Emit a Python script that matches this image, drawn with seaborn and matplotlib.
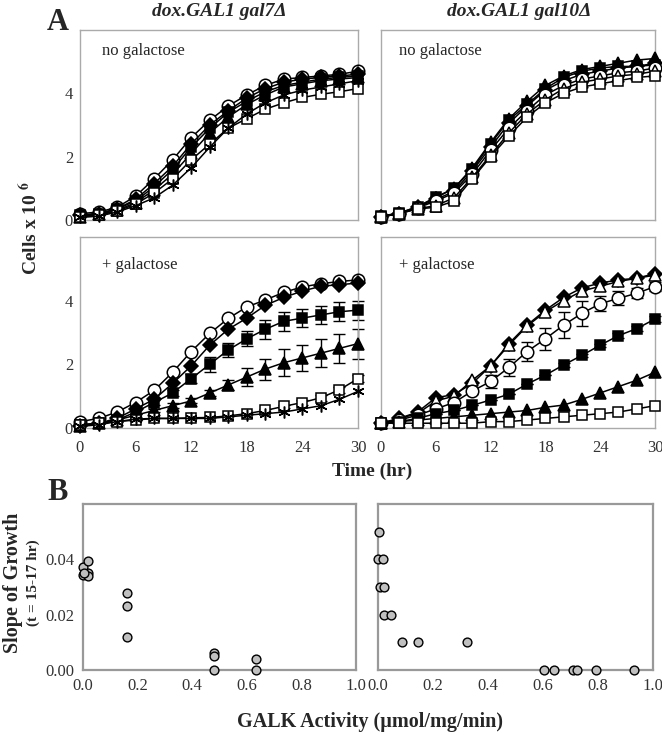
import numpy as np
import pandas as pd
import seaborn as sns
import matplotlib.pyplot as plt

hours = list(range(0, 31, 2))

# panel A, dox.GAL1 gal7 delta, no galactose
g7_none = {
    "circle": [0.2, 0.25, 0.4, 0.75, 1.3, 1.9, 2.6, 3.15, 3.6, 3.95, 4.25, 4.45, 4.5, 4.55, 4.6, 4.7],
    "diamond": [0.15, 0.2, 0.35, 0.65, 1.15, 1.7, 2.4, 3.0, 3.45, 3.85, 4.15, 4.35, 4.45, 4.5, 4.55, 4.6],
    "square": [0.15, 0.2, 0.35, 0.6, 1.05, 1.6, 2.3, 2.9, 3.4, 3.75, 4.05, 4.25, 4.35, 4.45, 4.5, 4.55],
    "triangle": [0.1, 0.18, 0.3, 0.55, 0.95, 1.45, 2.1, 2.75, 3.25, 3.65, 3.95, 4.2, 4.3, 4.4, 4.45, 4.5],
    "open_square": [0.1, 0.15, 0.28, 0.5, 0.85, 1.3, 1.9, 2.4, 2.9, 3.2, 3.5, 3.7, 3.87, 3.97, 4.05, 4.15],
    "star": [0.08, 0.12, 0.25, 0.45, 0.7, 1.1, 1.65, 2.3, 2.9, 3.35, 3.7, 3.95, 4.1, 4.2, 4.3, 4.4],
}
# panel A, gal7 delta, + galactose
g7_gal = {
    "circle": [0.2, 0.3, 0.5, 0.8, 1.18, 1.75, 2.4, 2.97, 3.44, 3.8, 4.02, 4.26, 4.43, 4.53, 4.6, 4.65],
    "diamond": [0.05, 0.15, 0.3, 0.6, 0.9, 1.4, 1.95, 2.6, 3.1, 3.45, 3.85, 4.1, 4.3, 4.45, 4.5, 4.55],
    "square": [0.1, 0.15, 0.25, 0.5, 0.8, 1.1, 1.55, 2.0, 2.45, 2.8, 3.1, 3.35, 3.45, 3.55, 3.65, 3.7],
    "triangle": [0.05, 0.15, 0.25, 0.4, 0.55, 0.7, 0.85, 1.1, 1.35, 1.6, 1.85, 2.05, 2.2, 2.35, 2.5, 2.65],
    "open_square": [0.1, 0.15, 0.2, 0.25, 0.3, 0.3, 0.32, 0.33, 0.38, 0.45, 0.55, 0.68, 0.8, 0.95, 1.2, 1.55],
    "star": [0.05, 0.1, 0.2, 0.28, 0.3, 0.3, 0.3, 0.3, 0.35, 0.4, 0.45, 0.5, 0.6, 0.7, 0.9, 1.15],
}
g7_gal_err = {
    "square": [0, 0, 0, 0.05, 0.08, 0.1, 0.15, 0.23, 0.23, 0.23, 0.3, 0.3, 0.28, 0.28, 0.3, 0.3],
    "triangle": [0, 0, 0, 0.05, 0.05, 0.08, 0.08, 0.1, 0.15, 0.28, 0.33, 0.43, 0.42, 0.44, 0.45, 0.47],
    "open_square": [0, 0, 0, 0, 0, 0, 0, 0, 0, 0, 0.05, 0.05, 0.08, 0.1, 0.1, 0.1],
}

# panel A, dox.GAL1 gal10 delta, no galactose
g10_none = {
    "triangle": [0.12, 0.21, 0.42, 0.7, 1.0, 1.65, 2.45, 3.2, 3.75, 4.25, 4.55, 4.75, 4.85, 4.95, 5.05, 5.1],
    "square": [0.12, 0.22, 0.42, 0.72, 1.0, 1.6, 2.4, 3.15, 3.65, 4.15, 4.5, 4.7, 4.8, 4.85, 4.85, 4.9],
    "diamond": [0.1, 0.2, 0.4, 0.65, 0.9, 1.55, 2.3, 3.05, 3.6, 4.1, 4.4, 4.6, 4.7, 4.8, 4.85, 4.95],
    "circle": [0.1, 0.2, 0.38, 0.6, 0.85, 1.45, 2.2, 2.9, 3.45, 3.95, 4.25, 4.45, 4.55, 4.65, 4.7, 4.8],
    "open_triangle": [0.1, 0.2, 0.36, 0.45, 0.7, 1.35, 2.05, 2.75, 3.35, 3.8, 4.15, 4.35, 4.45, 4.55, 4.6, 4.7],
    "open_square": [0.1, 0.2, 0.35, 0.4, 0.6, 1.3, 2.0, 2.65, 3.25, 3.7, 4.0, 4.2, 4.3, 4.4, 4.5, 4.55],
}
# panel A, gal10 delta, + galactose
g10_gal = {
    "diamond": [0.15, 0.3, 0.5, 0.95, 1.05, 1.4, 1.95, 2.65, 3.23, 3.7, 4.1, 4.4, 4.55, 4.65, 4.7, 4.85],
    "open_triangle": [0.15, 0.3, 0.45, 0.85, 1.0, 1.5, 1.95, 2.6, 3.2, 3.65, 4.0, 4.3, 4.45, 4.6, 4.7, 4.8],
    "circle": [0.15, 0.25, 0.4, 0.6, 0.8, 1.16, 1.46, 1.9, 2.4, 2.8, 3.23, 3.6, 3.9, 4.07, 4.23, 4.44],
    "square": [0.15, 0.2, 0.3, 0.45, 0.55, 0.71, 0.88, 1.06, 1.38, 1.66, 1.98, 2.28, 2.6, 2.9, 3.12, 3.42],
    "triangle": [0.15, 0.2, 0.25, 0.3, 0.35, 0.4, 0.45, 0.5, 0.55, 0.65, 0.72, 0.9, 1.1, 1.3, 1.5, 1.75],
    "open_square": [0.15, 0.15, 0.15, 0.15, 0.15, 0.15, 0.2, 0.2, 0.25, 0.3, 0.35, 0.4, 0.45, 0.5, 0.6, 0.7],
}
g10_gal_err = {
    "circle": [0, 0, 0, 0, 0, 0.1, 0.2, 0.26, 0.29, 0.35, 0.42, 0.4, 0.24, 0.22, 0.15, 0.15],
    "square": [0, 0, 0, 0, 0, 0, 0, 0, 0, 0, 0.05, 0.05, 0.05, 0.08, 0.08, 0.1],
}

# panel B, slope of growth vs GALK activity
galk_g7 = [0.0, 0.02, 0.0, 0.02, 0.02, 0.005, 0.16, 0.16, 0.16, 0.48, 0.48, 0.48, 0.635, 0.635]
slope_g7 = [0.0373, 0.0394, 0.0345, 0.035, 0.034, 0.035, 0.028, 0.023, 0.012, 0.0061, 0.0051, 0.0, 0.0041, 0.0]
galk_g10 = [0.002, 0.0, 0.018, 0.006, 0.02, 0.022, 0.046, 0.087, 0.145, 0.324,
            0.605, 0.64, 0.709, 0.723, 0.794, 0.93]
slope_g10 = [0.05, 0.04, 0.04, 0.03, 0.03, 0.02, 0.02, 0.01, 0.01, 0.01,
             0.0, 0.0, 0.0, 0.0, 0.0, 0.0]

styles = {
    "circle": ("o", "white", 9),
    "diamond": ("D", "black", 7.5),
    "square": ("s", "black", 7.5),
    "triangle": ("^", "black", 8.5),
    "open_square": ("s", "white", 7.5),
    "open_triangle": ("^", "white", 8.5),
    "star": ((6, 2, 0), "black", 8.5),
}

sns.set_style("white")
plt.rcParams["font.family"] = ["Liberation Serif", "DejaVu Serif"]
plt.rcParams["mathtext.fontset"] = "stix"

fig = plt.figure(figsize=(6.62, 7.35), dpi=100)
ax_tl = fig.add_axes([0.1208, 0.7007, 0.42, 0.2585])
ax_tr = fig.add_axes([0.5755, 0.7007, 0.4139, 0.2585])
ax_bl = fig.add_axes([0.1208, 0.4177, 0.42, 0.26])
ax_br = fig.add_axes([0.5755, 0.4177, 0.4139, 0.26])
ax_b1 = fig.add_axes([0.1254, 0.0884, 0.4124, 0.2259])
ax_b2 = fig.add_axes([0.571, 0.0884, 0.4154, 0.2259])


def draw_curves(ax, series, errs=None):
    for name, vals in series.items():
        marker, face, size = styles[name]
        if errs and name in errs:
            ax.errorbar(hours, vals, yerr=errs[name], fmt="none", ecolor="black",
                        elinewidth=1, capsize=4, capthick=1, zorder=2, clip_on=False)
        sns.lineplot(x=hours, y=vals, ax=ax, color="black", linewidth=1.1,
                     marker=marker, markersize=size, markerfacecolor=face,
                     markeredgecolor="black", markeredgewidth=1.1, clip_on=False, zorder=3)


for ax, data, errs in [(ax_tl, g7_none, None), (ax_tr, g10_none, None),
                       (ax_bl, g7_gal, g7_gal_err), (ax_br, g10_gal, g10_gal_err)]:
    draw_curves(ax, data, errs)
    ax.set_xlim(0, 30)
    ax.set_ylim(0, 6)
    ax.set_xticks([0, 6, 12, 18, 24, 30])
    ax.set_yticks([0, 2, 4])
    ax.tick_params(labelsize=12, length=0, pad=5, colors="#333333")
    for s in ax.spines.values():
        s.set_color("#aaaaaa")
        s.set_linewidth(1)

for ax in (ax_tl, ax_tr):
    ax.set_xticklabels([])
for ax in (ax_tr, ax_br):
    ax.set_yticklabels([])
for ax in (ax_bl, ax_br):
    ax.tick_params(axis="x", length=4, direction="out", color="#aaaaaa")

ax_tl.text(0.08, 0.87, "no galactose", transform=ax_tl.transAxes, fontsize=12)
ax_tr.text(0.065, 0.87, "no galactose", transform=ax_tr.transAxes, fontsize=12)
ax_bl.text(0.08, 0.83, "+ galactose", transform=ax_bl.transAxes, fontsize=12)
ax_br.text(0.065, 0.83, "+ galactose", transform=ax_br.transAxes, fontsize=12)

for ax, gx, gy in [(ax_b1, galk_g7, slope_g7), (ax_b2, galk_g10, slope_g10)]:
    sns.scatterplot(x=gx, y=gy, ax=ax, color="#c0c0c0", edgecolor="black",
                    linewidth=1, s=40, clip_on=False, zorder=3)
    ax.set_xlim(0, 1.0)
    ax.set_ylim(0, 0.06)
    ax.set_xticks([0, 0.2, 0.4, 0.6, 0.8, 1.0])
    ax.set_xticklabels(["0.0", "0.2", "0.4", "0.6", "0.8", "1.0"])
    ax.set_yticks([0, 0.02, 0.04])
    ax.set_yticklabels(["0.00", "0.02", "0.04"])
    ax.tick_params(labelsize=12, length=0, pad=6, colors="#333333")
    for s in ax.spines.values():
        s.set_color("#999999")
        s.set_linewidth(1.6)
ax_b2.set_yticklabels([])

fig.text(58 / 662, 1 - 22 / 735, "A", fontsize=22, fontweight="bold", ha="center", va="center")
fig.text(58 / 662, 1 - 493 / 735, "B", fontsize=22, fontweight="bold", ha="center", va="center")
fig.text(219 / 662, 1 - 12 / 735, "dox.GAL1 gal7Δ", fontsize=14, fontweight="bold",
         fontstyle="italic", ha="center", va="center")
fig.text(519 / 662, 1 - 12 / 735, "dox.GAL1 gal10Δ", fontsize=14, fontweight="bold",
         fontstyle="italic", ha="center", va="center")
fig.text(30 / 662, 1 - 228 / 735, r"Cells x 10 $^{\mathbf{6}}$", fontsize=14, fontweight="bold",
         rotation=90, ha="center", va="center")
fig.text(372 / 662, 1 - 471 / 735, "Time (hr)", fontsize=14, fontweight="bold",
         ha="center", va="center")
fig.text(13 / 662, 1 - 583 / 735, "Slope of Growth", fontsize=14.5, fontweight="bold",
         rotation=90, ha="center", va="center")
fig.text(33 / 662, 1 - 583 / 735, "(t = 15-17 hr)", fontsize=11, fontweight="bold",
         rotation=90, ha="center", va="center")
fig.text(370 / 662, 1 - 722 / 735, "GALK Activity (µmol/mg/min)", fontsize=14.5,
         fontweight="bold", ha="center", va="center")

fig.savefig("out.png", dpi=100, facecolor="white")
